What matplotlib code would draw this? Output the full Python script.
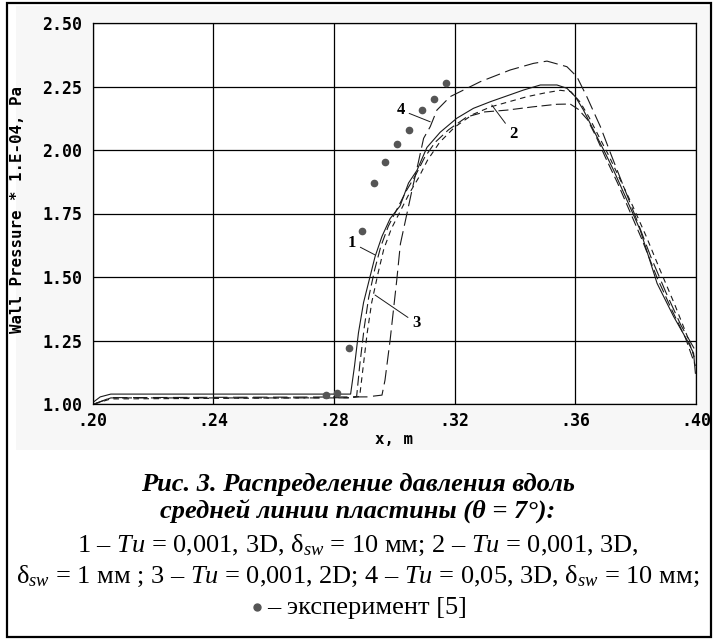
import matplotlib
matplotlib.use("Agg")
import matplotlib.pyplot as plt
from matplotlib.patches import Rectangle
from matplotlib.lines import Line2D

plt.rcParams['mathtext.fontset'] = 'custom'
plt.rcParams['mathtext.rm'] = 'Liberation Serif'
plt.rcParams['mathtext.it'] = 'Liberation Serif:italic'
plt.rcParams['mathtext.bf'] = 'Liberation Serif:bold'

# ---------------- data ----------------
x1 = [0.2005, 0.2025, 0.2060, 0.2855, 0.2868, 0.2881, 0.2898, 0.2917, 0.2936, 0.2959,
      0.2986, 0.3019, 0.3047, 0.3075, 0.3108, 0.3152, 0.3207, 0.3262, 0.3318, 0.3373,
      0.3428, 0.3484, 0.3539, 0.3572, 0.3600, 0.3627, 0.3660, 0.3694, 0.3727, 0.3771,
      0.3815, 0.3871, 0.3926, 0.3970, 0.3992, 0.3998]
y1 = [1.010, 1.028, 1.039, 1.039, 1.150, 1.280, 1.400, 1.490, 1.580, 1.660,
      1.730, 1.780, 1.870, 1.920, 2.010, 2.070, 2.125, 2.164, 2.190, 2.213,
      2.236, 2.256, 2.256, 2.243, 2.210, 2.157, 2.079, 2.000, 1.920, 1.803,
      1.685, 1.475, 1.344, 1.252, 1.200, 1.121]

x2 = [0.2005, 0.2060, 0.2850, 0.2875, 0.2885, 0.2900, 0.2915, 0.2935, 0.2955, 0.2980,
      0.3010, 0.3040, 0.3070, 0.3100, 0.3135, 0.3180, 0.3240, 0.3300, 0.3373, 0.3460,
      0.3539, 0.3583, 0.3610, 0.3640, 0.3670, 0.3700, 0.3740, 0.3780, 0.3820, 0.3870,
      0.3920, 0.3965, 0.3998]
y2 = [1.000, 1.024, 1.024, 1.030, 1.150, 1.300, 1.420, 1.530, 1.620, 1.700,
      1.770, 1.840, 1.900, 1.970, 2.030, 2.080, 2.130, 2.150, 2.157, 2.170,
      2.180, 2.181, 2.160, 2.120, 2.050, 1.970, 1.870, 1.760, 1.650, 1.500,
      1.370, 1.260, 1.150]

x3 = [0.2005, 0.2060, 0.2860, 0.2885, 0.2895, 0.2910, 0.2925, 0.2945, 0.2965, 0.2990,
      0.3020, 0.3050, 0.3080, 0.3110, 0.3150, 0.3200, 0.3260, 0.3320, 0.3380, 0.3440,
      0.3500, 0.3550, 0.3585, 0.3615, 0.3645, 0.3675, 0.3710, 0.3750, 0.3790, 0.3835,
      0.3880, 0.3930, 0.3970, 0.3998]
y3 = [1.000, 1.020, 1.025, 1.030, 1.130, 1.280, 1.400, 1.510, 1.610, 1.690,
      1.760, 1.830, 1.890, 1.960, 2.030, 2.090, 2.140, 2.170, 2.190, 2.210,
      2.225, 2.235, 2.230, 2.190, 2.130, 2.060, 1.980, 1.880, 1.780, 1.660,
      1.530, 1.390, 1.270, 1.170]

x4 = [0.2005, 0.2060, 0.2909, 0.2959, 0.2969, 0.2986, 0.3008, 0.3020, 0.3040, 0.3060,
      0.3080, 0.3097, 0.3119, 0.3141, 0.3185, 0.3285, 0.3384, 0.3461, 0.3506, 0.3572,
      0.3605, 0.3638, 0.3683, 0.3721, 0.3760, 0.3804, 0.3850, 0.3900, 0.3950, 0.3998]
y4 = [1.000, 1.025, 1.028, 1.035, 1.094, 1.252, 1.488, 1.630, 1.740, 1.850,
      1.954, 2.046, 2.092, 2.157, 2.210, 2.269, 2.315, 2.341, 2.350, 2.328,
      2.289, 2.210, 2.092, 1.974, 1.856, 1.724, 1.580, 1.440, 1.310, 1.210]

x_exp = [0.2774, 0.2809, 0.2851, 0.2892, 0.2931, 0.2969, 0.3010, 0.3049, 0.3091, 0.3132, 0.3171]
y_exp = [1.035, 1.045, 1.219, 1.681, 1.871, 1.951, 2.022, 2.079, 2.157, 2.200, 2.263]

x_ticks = [0.20, 0.24, 0.28, 0.32, 0.36, 0.40]
x_ticklabels = ['.20', '.24', '.28', '.32', '.36', '.40']
y_ticks = [1.00, 1.25, 1.50, 1.75, 2.00, 2.25, 2.50]
y_ticklabels = ['1.00', '1.25', '1.50', '1.75', '2.00', '2.25', '2.50']

curve_labels = ['1', '2', '3', '4']

# ---------------- figure ----------------
W, H = 713, 641
fig = plt.figure(figsize=(W / 100, H / 100), dpi=100)
fig.patch.set_facecolor('white')

fig.patches.append(Rectangle((16 / W, 1 - 450 / H), (709 - 16) / W, (450 - 6) / H,
                             transform=fig.transFigure, facecolor='#f7f7f7',
                             edgecolor='none', zorder=0))
fig.patches.append(Rectangle((7 / W, 1 - 637 / H), (711 - 7) / W, (637 - 3) / H,
                             transform=fig.transFigure, facecolor='none',
                             edgecolor='black', lw=1.6, zorder=5))

ax = fig.add_axes([92.7 / W, 1 - 404 / H, (696 - 92.7) / W, (404 - 23) / H])
ax.set_zorder(3)
ax.set_facecolor('white')
ax.set_xlim(0.20, 0.40)
ax.set_ylim(1.00, 2.50)
ax.set_xticks(x_ticks)
ax.set_xticklabels(x_ticklabels)
ax.set_yticks(y_ticks)
ax.set_yticklabels(y_ticklabels)
for lab in ax.get_xticklabels() + ax.get_yticklabels():
    lab.set_fontfamily('DejaVu Sans Mono')
    lab.set_fontweight('bold')
    lab.set_fontsize(12)
ax.tick_params(axis='y', length=0, pad=7.5)
ax.tick_params(axis='x', length=0, pad=6)
ax.grid(True, color='black', lw=0.9)
ax.set_axisbelow(True)
for s in ax.spines.values():
    s.set_color('black')
    s.set_linewidth(0.9)

ax.set_xlabel('x, m', family='DejaVu Sans Mono', weight='bold', size=11.3, labelpad=1)
ax.set_ylabel('Wall Pressure * 1.E-04, Pa', family='DejaVu Sans Mono', weight='bold',
              size=11.3, labelpad=6)
ax.yaxis.set_label_coords(-0.112, 0.51)

lc = '#1a1a1a'
ax.plot(x1, y1, color=lc, lw=0.8, ls='-', zorder=3)
ax.plot(x2, y2, color=lc, lw=0.8, ls=(0, (9, 4)), zorder=3)
ax.plot(x3, y3, color=lc, lw=0.8, ls=(0, (5, 4)), zorder=3)
ax.plot(x4, y4, color=lc, lw=0.8, ls=(0, (13, 5)), zorder=3)
ax.plot(x_exp, y_exp, ls='none', marker='o', ms=4.5, color='#555555', zorder=4)

ann = [
    (curve_labels[0], (0.2936, 1.587), (0.2860, 1.634)),
    (curve_labels[1], (0.3323, 2.177), (0.3394, 2.064)),
    (curve_labels[2], (0.2936, 1.429), (0.3072, 1.319)),
    (curve_labels[3], (0.3119, 2.111), (0.3022, 2.157)),
]
for t, xy, xt in ann:
    ax.annotate(t, xy=xy, xytext=xt, ha='center', va='center',
                family='Liberation Serif', weight='bold', size=12,
                arrowprops=dict(arrowstyle='-', lw=0.7, color=lc, shrinkA=1, shrinkB=0))

# ---------------- caption ----------------
cx = 358 / W
bi = dict(family='Liberation Serif', weight='bold', style='italic', size=19)
rg = dict(family='Liberation Serif', size=19)
fig.text(cx, 1 - 484 / H, 'Рис. 3. Распределение давления вдоль', ha='center', va='center', **bi)
fig.text(cx, 1 - 512 / H, 'средней линии пластины (θ = 7°):', ha='center', va='center', **bi)
fig.text(cx, 1 - 545 / H,
         r'1 – $Tu$ = 0,001, 3D, δ${}_{sw}$ = 10 мм; 2 – $Tu$ = 0,001, 3D,',
         ha='center', va='center', **rg)
fig.text(cx, 1 - 576 / H,
         r'δ${}_{sw}$ = 1 мм ; 3 – $Tu$ = 0,001, 2D; 4 – $Tu$ = 0,05, 3D, δ${}_{sw}$ = 10 мм;',
         ha='center', va='center', **rg)
base5 = 1 - 614 / H
t5 = fig.text((358 + 9) / W, base5, '– эксперимент [5]', ha='center', va='baseline', **rg)
renderer = fig.canvas.get_renderer()
bb = t5.get_window_extent(renderer)
fig.add_artist(Line2D([(bb.x0 - 10) / W], [1 - 607 / H], transform=fig.transFigure,
                      marker='o', ms=5, color='#555555', ls='none'))

fig.savefig('out.png', dpi=100)
